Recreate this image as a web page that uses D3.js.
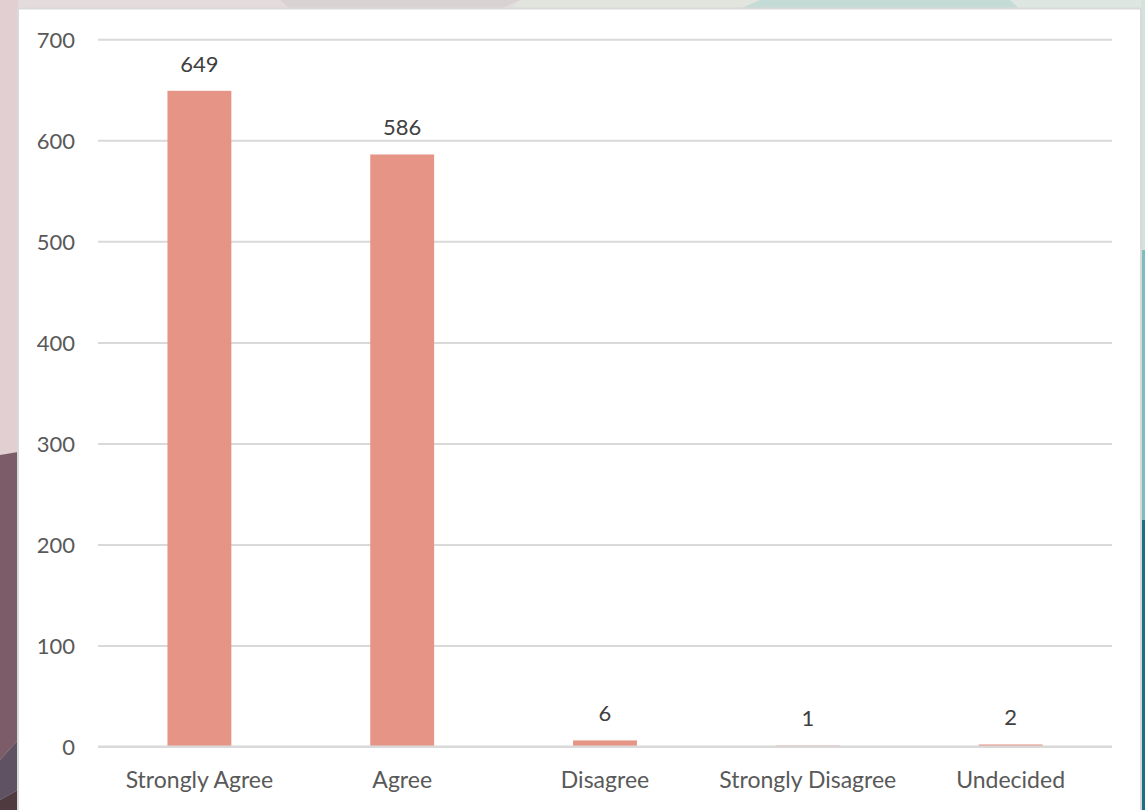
<!DOCTYPE html>
<html><head><meta charset="utf-8">
<script src="https://cdn.jsdelivr.net/npm/d3@7"></script>
<style>html,body{margin:0;padding:0;overflow:hidden;background:#fff}</style>
</head><body>
<svg id="c" width="1145" height="810"></svg>
<script>
const categories = ["Strongly Agree","Agree","Disagree","Strongly Disagree","Undecided"];
const values = [649, 586, 6, 1, 2];
const yTicks = [0,100,200,300,400,500,600,700];

const W = 1145, H = 810;
const svg = d3.select("#c");

// decorative background
const bgPolys = [
  {pts:[[0,0],[1145,0],[1145,810],[0,810]], fill:"#e4dcdc"},
  {pts:[[280,0],[520,0],[500,9],[290,9]], fill:"#d8d2d2"},
  {pts:[[520,0],[760,0],[740,9],[510,9]], fill:"#e2e4de"},
  {pts:[[760,0],[1010,0],[1020,9],[740,9]], fill:"#c5dbd5"},
  {pts:[[1010,0],[1145,0],[1145,9],[1020,9]], fill:"#dde6e0"},
  {pts:[[0,0],[18,0],[18,455],[0,455]], fill:"#e2cfd2"},
  {pts:[[0,455],[18,452],[18,740],[0,760]], fill:"#7c5c68"},
  {pts:[[0,760],[18,740],[18,790],[0,800]], fill:"#5f5262"},
  {pts:[[0,800],[18,790],[18,810],[0,810]], fill:"#4f3a40"},
  {pts:[[1141,0],[1145,0],[1145,250],[1141,250]], fill:"#d4e2de"},
  {pts:[[1141,250],[1145,250],[1145,520],[1141,520]], fill:"#7fbcc2"},
  {pts:[[1141,520],[1145,520],[1145,810],[1141,810]], fill:"#1d6f86"}
];
svg.append("g").selectAll("polygon").data(bgPolys).join("polygon")
  .attr("points", d => d.pts.map(p => p.join(",")).join(" "))
  .attr("fill", d => d.fill);

// panel
svg.append("rect").attr("x",18).attr("y",8.5).attr("width",1123).attr("height",812)
  .attr("fill","#fff").attr("stroke","#d9d9d9").attr("stroke-width",2);

const x = d3.scaleBand().domain(categories).range([98,1112]).padding(0);
const y = d3.scaleLinear().domain([0,700]).range([746.5,39.3]);
const font = "Lato, 'Open Sans', sans-serif";

// gridlines
const yAxis = d3.axisLeft(y).tickValues(yTicks).tickSize(-(1112-98)).tickPadding(23);
const gy = svg.append("g").attr("transform","translate(98,0)").call(yAxis);
gy.select(".domain").remove();
gy.selectAll(".tick line").attr("stroke","#d9d9d9").attr("stroke-width",2);
gy.selectAll(".tick text").attr("fill","#595959").style("font-family",font).style("font-size","22px").attr("dy","0.35em");

const barW = x.bandwidth()*0.315;
svg.append("g").selectAll("rect").data(values).join("rect")
  .attr("x",(d,i)=>x(categories[i])+x.bandwidth()/2-barW/2)
  .attr("y",d=>y(d))
  .attr("width",barW)
  .attr("height",d=>y(0)-y(d))
  .attr("fill","#e69486");

// redraw baseline on top
svg.append("line").attr("x1",98).attr("x2",1112).attr("y1",y(0)).attr("y2",y(0))
  .attr("stroke","#d9d9d9").attr("stroke-width",2);

// data labels
svg.append("g").selectAll("text").data(values).join("text")
  .attr("x",(d,i)=>x(categories[i])+x.bandwidth()/2)
  .attr("y",d=>y(d)-19)
  .attr("text-anchor","middle")
  .attr("fill","#404040").style("font-family",font).style("font-size","22px")
  .text(d=>d);

// x axis labels
const xAxis = d3.axisBottom(x).tickSize(0).tickPadding(25);
const gx = svg.append("g").attr("transform",`translate(0,${y(0)})`).call(xAxis);
gx.select(".domain").remove();
gx.selectAll(".tick text").attr("fill","#595959").style("font-family",font).style("font-size","23px");
</script>
</body></html>
